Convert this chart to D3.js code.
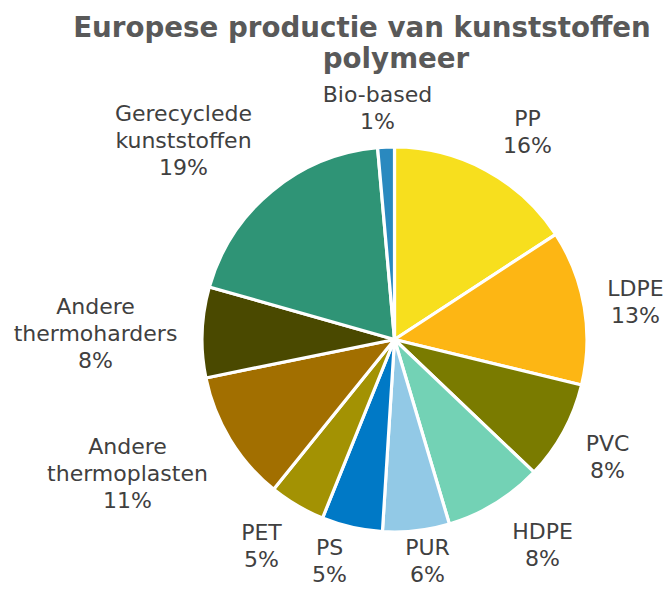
<!DOCTYPE html>
<html>
<head>
<meta charset="utf-8">
<script src="https://cdn.jsdelivr.net/npm/d3@7"></script>
<style>
  html, body { margin: 0; padding: 0; background: #fff; }
  svg { display: block; }
</style>
</head>
<body>
<svg id="chart" width="665" height="589"></svg>
<script>
// ---- data ----
const titleLines = ["Europese productie van kunststoffen", "polymeer"];
const categories = ["PP", "LDPE", "PVC", "HDPE", "PUR", "PS", "PET",
  "Andere thermoplasten", "Andere thermoharders", "Gerecyclede kunststoffen", "Bio-based"];
const values = [15.8, 13.0, 8.3, 8.3, 5.6, 5.1, 4.7, 11.0, 7.6, 19.2, 1.4];
const percentLabels = ["16%", "13%", "8%", "8%", "6%", "5%", "5%", "11%", "8%", "19%", "1%"];
const labelLines = [["PP"], ["LDPE"], ["PVC"], ["HDPE"], ["PUR"], ["PS"], ["PET"],
  ["Andere", "thermoplasten"], ["Andere", "thermoharders"], ["Gerecyclede", "kunststoffen"], ["Bio-based"]];
const colors = ["#F7DF1E", "#FDB614", "#7A7B00", "#73D2B5", "#92C9E6", "#0079C6",
  "#A39203", "#A26F00", "#4A4900", "#2F9476", "#2A89BF"];

// ---- layout (label first-baseline offsets from pie centre) ----
const cx = 394.5, cy = 339.5, R = 192.5;
const labelPos = [
  [133, -214], [241, -44], [213, 111], [148, 199], [33, 215.5], [-65, 215.5], [-133, 200],
  [-267, 114], [-299, -26], [-211, -219], [-17, -238]
];
const lineH = 27.2;

const svg = d3.select("#chart");

// title
const title = svg.append("text")
  .attr("font-family", "DejaVu Sans, Verdana, sans-serif")
  .attr("font-weight", "bold")
  .attr("font-size", 27.7)
  .attr("fill", "#595959")
  .attr("text-anchor", "middle");
title.append("tspan").attr("x", 362).attr("y", 37).text(titleLines[0]);
title.append("tspan").attr("x", 396).attr("y", 68).text(titleLines[1]);

// pie
const pie = d3.pie().sort(null).value(d => d)(values);
const arc = d3.arc().innerRadius(0).outerRadius(R);
const g = svg.append("g").attr("transform", `translate(${cx},${cy})`);
g.selectAll("path").data(pie).join("path")
  .attr("d", arc)
  .attr("fill", (d, i) => colors[i])
  .attr("stroke", "#fff")
  .attr("stroke-width", 3.2)
  .attr("stroke-linejoin", "round");

// labels
const lg = svg.append("g")
  .attr("font-family", "DejaVu Sans, Verdana, sans-serif")
  .attr("font-size", 22)
  .attr("fill", "#404040")
  .attr("text-anchor", "middle");
categories.forEach((c, i) => {
  const lines = labelLines[i].concat([percentLabels[i]]);
  const t = lg.append("text");
  lines.forEach((ln, k) => {
    t.append("tspan")
      .attr("x", cx + labelPos[i][0])
      .attr("y", cy + labelPos[i][1] + k * lineH)
      .text(ln);
  });
});
</script>
</body>
</html>
